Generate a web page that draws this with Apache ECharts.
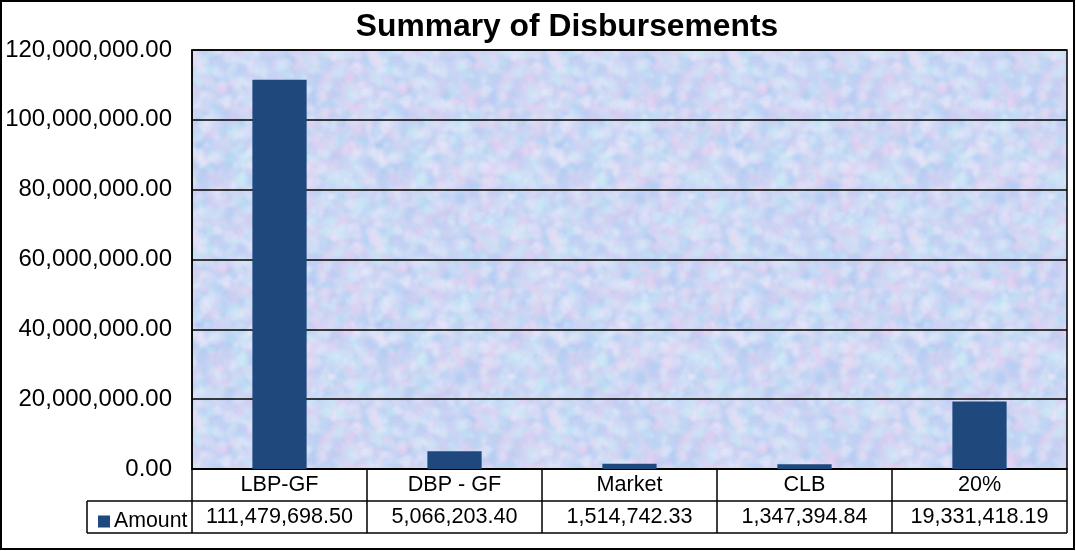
<!DOCTYPE html>
<html>
<head>
<meta charset="utf-8">
<script src="https://cdn.jsdelivr.net/npm/echarts@6/dist/echarts.min.js"></script>
<style>
html,body{margin:0;padding:0;background:#fff;}
#chart{width:1076px;height:551px;}
</style>
</head>
<body>
<div id="chart"></div>
<script>
const titleText = 'Summary of Disbursements';
const categories = ['LBP-GF', 'DBP - GF', 'Market', 'CLB', '20%'];
const seriesName = 'Amount';
const amounts = [111479698.50, 5066203.40, 1514742.33, 1347394.84, 19331418.19];
const yTicks = [0, 20000000, 40000000, 60000000, 80000000, 100000000, 120000000];

function fmt(v) {
  return v.toLocaleString('en-US', {minimumFractionDigits: 2, maximumFractionDigits: 2});
}

// decorative textured background (deterministic hash noise)
function makeTexture() {
  const size = 180;
  const c = document.createElement('canvas');
  c.width = size; c.height = size;
  const ctx = c.getContext('2d');
  ctx.fillStyle = '#D2DCF6';
  ctx.fillRect(0, 0, size, size);
  function h(i) { const x = Math.sin(i * 12.9898 + 78.233) * 43758.5453; return x - Math.floor(x); }
  const cols = ['rgba(175,208,246,0.33)', 'rgba(236,205,240,0.33)', 'rgba(198,236,248,0.38)',
                'rgba(212,204,244,0.33)', 'rgba(236,238,253,0.38)', 'rgba(165,195,240,0.22)'];
  try { ctx.filter = 'blur(1.5px)'; } catch (e) {}
  for (let i = 0; i < 1800; i++) {
    const x = h(i * 3 + 1) * size, y = h(i * 3 + 2) * size, r = 2 + h(i * 3 + 3) * 5;
    ctx.fillStyle = cols[i % cols.length];
    for (const dx of [-size, 0, size]) for (const dy of [-size, 0, size]) {
      ctx.beginPath(); ctx.arc(x + dx, y + dy, r, 0, Math.PI * 2); ctx.fill();
    }
  }
  return c;
}

const chart = echarts.init(document.getElementById('chart'), null, {renderer: 'canvas'});
const FONT = '"Liberation Sans", Arial, sans-serif';
const gridLeft = 192, gridTop = 50, gridRight = 1067, gridBottom = 469;
const tableRow2 = 501, tableBottom = 533, legendLeft = 87;

chart.setOption({
  animation: false,
  backgroundColor: '#fff',
  textStyle: {fontFamily: FONT, color: '#000'},
  title: {
    text: titleText,
    left: 567, top: 11, textAlign: 'center', padding: 0,
    textStyle: {fontFamily: FONT, fontSize: 31.8, fontWeight: 'bold', color: '#000'}
  },
  legend: {
    data: [seriesName],
    left: 98, top: 511, padding: 0,
    icon: 'rect', itemWidth: 12, itemHeight: 12, itemGap: 0,
    textStyle: {fontFamily: FONT, fontSize: 21.3, color: '#000', padding: [0, 0, 0, -1]}
  },
  grid: {
    left: gridLeft, top: gridTop, width: gridRight - gridLeft, height: gridBottom - gridTop,
    show: true, borderColor: '#000', borderWidth: 1.5,
    backgroundColor: {image: makeTexture(), repeat: 'repeat'}
  },
  xAxis: [{
    type: 'category', data: categories, position: 'bottom',
    axisLine: {show: true, lineStyle: {color: '#000', width: 1.5}},
    axisTick: {show: true, interval: 0, length: tableBottom - gridBottom, lineStyle: {color: '#000', width: 1.5}},
    axisLabel: {interval: 0, fontFamily: FONT, fontSize: 21.6, color: '#000', margin: 16, verticalAlign: 'middle'},
    splitLine: {show: false}
  }, {
    type: 'category', data: categories, position: 'bottom',
    axisLine: {show: false}, axisTick: {show: false},
    axisLabel: {interval: 0, hideOverlap: false, fontFamily: FONT, fontSize: 21.6, color: '#000', margin: 48, verticalAlign: 'middle',
      formatter: (v, i) => fmt(amounts[i])},
    splitLine: {show: false}
  }],
  yAxis: {
    type: 'value', min: yTicks[0], max: yTicks[yTicks.length - 1], interval: yTicks[1] - yTicks[0],
    axisLine: {show: true, lineStyle: {color: '#000', width: 1.5}},
    axisTick: {show: false},
    axisLabel: {fontFamily: FONT, fontSize: 24, color: '#000', margin: 20, formatter: v => fmt(v)},
    splitLine: {show: true, lineStyle: {color: '#000', width: 1.5}}
  },
  series: [{
    name: seriesName, type: 'bar', data: amounts, xAxisIndex: 0,
    barWidth: '31%', itemStyle: {color: '#1F497D'}
  }],
  graphic: [
    {type: 'line', shape: {x1: legendLeft, y1: tableRow2, x2: gridRight, y2: tableRow2},
      style: {stroke: '#000', lineWidth: 1.5}, silent: true},
    {type: 'line', shape: {x1: legendLeft, y1: tableBottom, x2: gridRight, y2: tableBottom},
      style: {stroke: '#000', lineWidth: 1.5}, silent: true},
    {type: 'line', shape: {x1: legendLeft, y1: tableRow2, x2: legendLeft, y2: tableBottom},
      style: {stroke: '#000', lineWidth: 1.5}, silent: true},
    {type: 'rect', shape: {x: 1, y: 1, width: 1073, height: 548},
      style: {fill: 'none', stroke: '#000', lineWidth: 2}, silent: true, z: 100}
  ]
});
</script>
</body>
</html>
